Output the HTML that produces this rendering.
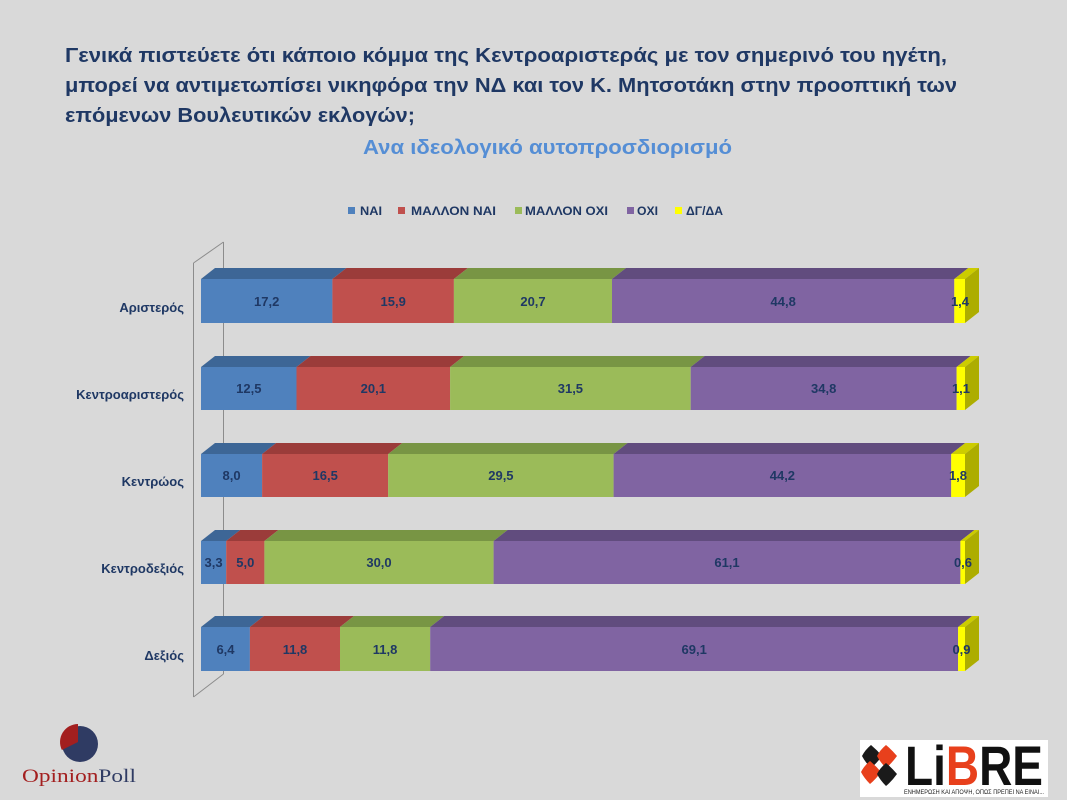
<!DOCTYPE html>
<html><head><meta charset="utf-8"><style>
html,body{margin:0;padding:0;background:#d9d9d9;}
svg{display:block;}
</style></head><body>
<svg width="1067" height="800" viewBox="0 0 1067 800" xmlns="http://www.w3.org/2000/svg" font-family="Liberation Sans, DejaVu Sans, sans-serif">
<rect width="1067" height="800" fill="#d9d9d9"/>

<!-- Title -->
<g fill="#1f3864" font-weight="bold" font-size="20">
<text x="65" y="62" textLength="882" lengthAdjust="spacingAndGlyphs">Γενικά πιστεύετε ότι κάποιο κόμμα της Κεντροαριστεράς με τον σημερινό του ηγέτη,</text>
<text x="65" y="92" textLength="892" lengthAdjust="spacingAndGlyphs">μπορεί να αντιμετωπίσει νικηφόρα την ΝΔ και τον Κ. Μητσοτάκη στην προοπτική των</text>
<text x="65" y="122" textLength="350" lengthAdjust="spacingAndGlyphs">επόμενων Βουλευτικών εκλογών;</text>
</g>
<text x="363" y="154" fill="#558ed5" font-weight="bold" font-size="20" textLength="369" lengthAdjust="spacingAndGlyphs">Ανα ιδεολογικό αυτοπροσδιορισμό</text>

<!-- Legend -->
<g font-weight="bold" font-size="11.5" fill="#1f3864">
<rect x="348" y="207" width="7" height="7" fill="#4f81bd"/>
<text x="360" y="215" textLength="22" lengthAdjust="spacingAndGlyphs">ΝΑΙ</text>
<rect x="398" y="207" width="7" height="7" fill="#c0504d"/>
<text x="411" y="215" textLength="85" lengthAdjust="spacingAndGlyphs">ΜΑΛΛΟΝ ΝΑΙ</text>
<rect x="515" y="207" width="7" height="7" fill="#9bbb59"/>
<text x="525" y="215" textLength="83" lengthAdjust="spacingAndGlyphs">ΜΑΛΛΟΝ ΟΧΙ</text>
<rect x="627" y="207" width="7" height="7" fill="#8064a2"/>
<text x="637" y="215" textLength="21" lengthAdjust="spacingAndGlyphs">ΟΧΙ</text>
<rect x="675" y="207" width="7" height="7" fill="#ffff00"/>
<text x="686" y="215" textLength="37" lengthAdjust="spacingAndGlyphs">ΔΓ/ΔΑ</text>
</g>

<!-- Wall -->
<g stroke="#8c8c8c" stroke-width="1" fill="none">
<line x1="193.5" y1="263" x2="223.5" y2="242"/>
<line x1="223.5" y1="242" x2="223.5" y2="674"/>
<line x1="193.5" y1="263" x2="193.5" y2="697"/>
<line x1="193.5" y1="697" x2="223.5" y2="674"/>
</g>

<!-- Category labels -->
<g font-weight="bold" font-size="13" fill="#1f3864" text-anchor="end">
<text x="184" y="312">Αριστερός</text>
<text x="184" y="399">Κεντροαριστερός</text>
<text x="184" y="486">Κεντρώος</text>
<text x="184" y="573">Κεντροδεξιός</text>
<text x="184" y="660">Δεξιός</text>
</g>

<!-- Row 1 -->
<g>
<polygon points="201,279 332.4,279 346.4,268 215,268" fill="#3d6696"/>
<polygon points="332.4,279 453.9,279 467.9,268 346.4,268" fill="#9b3c3a"/>
<polygon points="453.9,279 612,279 626,268 467.9,268" fill="#789544"/>
<polygon points="612,279 954.3,279 968.3,268 626,268" fill="#614c7e"/>
<polygon points="954.3,279 965,279 979,268 968.3,268" fill="#cccc00"/>
<polygon points="965,279 979,268 979,312 965,323" fill="#adad00"/>
<rect x="201" y="279" width="131.4" height="44" fill="#4f81bd"/>
<rect x="332.4" y="279" width="121.5" height="44" fill="#c0504d"/>
<rect x="453.9" y="279" width="158.1" height="44" fill="#9bbb59"/>
<rect x="612" y="279" width="342.3" height="44" fill="#8064a2"/>
<rect x="954.3" y="279" width="10.7" height="44" fill="#ffff00"/>
</g>
<!-- Row 2 -->
<g>
<polygon points="201,367 296.5,367 310.5,356 215,356" fill="#3d6696"/>
<polygon points="296.5,367 450.1,367 464.1,356 310.5,356" fill="#9b3c3a"/>
<polygon points="450.1,367 690.7,367 704.7,356 464.1,356" fill="#789544"/>
<polygon points="690.7,367 956.6,367 970.6,356 704.7,356" fill="#614c7e"/>
<polygon points="956.6,367 965,367 979,356 970.6,356" fill="#cccc00"/>
<polygon points="965,367 979,356 979,399 965,410" fill="#adad00"/>
<rect x="201" y="367" width="95.5" height="43" fill="#4f81bd"/>
<rect x="296.5" y="367" width="153.6" height="43" fill="#c0504d"/>
<rect x="450.1" y="367" width="240.6" height="43" fill="#9bbb59"/>
<rect x="690.7" y="367" width="265.9" height="43" fill="#8064a2"/>
<rect x="956.6" y="367" width="8.4" height="43" fill="#ffff00"/>
</g>
<!-- Row 3 -->
<g>
<polygon points="201,454 262.1,454 276.1,443 215,443" fill="#3d6696"/>
<polygon points="262.1,454 388.2,454 402.2,443 276.1,443" fill="#9b3c3a"/>
<polygon points="388.2,454 613.6,454 627.6,443 402.2,443" fill="#789544"/>
<polygon points="613.6,454 951.2,454 965.2,443 627.6,443" fill="#614c7e"/>
<polygon points="951.2,454 965,454 979,443 965.2,443" fill="#cccc00"/>
<polygon points="965,454 979,443 979,486 965,497" fill="#adad00"/>
<rect x="201" y="454" width="61.1" height="43" fill="#4f81bd"/>
<rect x="262.1" y="454" width="126.1" height="43" fill="#c0504d"/>
<rect x="388.2" y="454" width="225.4" height="43" fill="#9bbb59"/>
<rect x="613.6" y="454" width="337.6" height="43" fill="#8064a2"/>
<rect x="951.2" y="454" width="13.8" height="43" fill="#ffff00"/>
</g>
<!-- Row 4 -->
<g>
<polygon points="201,541 226.2,541 240.2,530 215,530" fill="#3d6696"/>
<polygon points="226.2,541 264.4,541 278.4,530 240.2,530" fill="#9b3c3a"/>
<polygon points="264.4,541 493.6,541 507.6,530 278.4,530" fill="#789544"/>
<polygon points="493.6,541 960.4,541 974.4,530 507.6,530" fill="#614c7e"/>
<polygon points="960.4,541 965,541 979,530 974.4,530" fill="#cccc00"/>
<polygon points="965,541 979,530 979,573 965,584" fill="#adad00"/>
<rect x="201" y="541" width="25.2" height="43" fill="#4f81bd"/>
<rect x="226.2" y="541" width="38.2" height="43" fill="#c0504d"/>
<rect x="264.4" y="541" width="229.2" height="43" fill="#9bbb59"/>
<rect x="493.6" y="541" width="466.8" height="43" fill="#8064a2"/>
<rect x="960.4" y="541" width="4.6" height="43" fill="#ffff00"/>
</g>
<!-- Row 5 -->
<g>
<polygon points="201,627 249.9,627 263.9,616 215,616" fill="#3d6696"/>
<polygon points="249.9,627 340,627 354,616 263.9,616" fill="#9b3c3a"/>
<polygon points="340,627 430.2,627 444.2,616 354,616" fill="#789544"/>
<polygon points="430.2,627 958.1,627 972.1,616 444.2,616" fill="#614c7e"/>
<polygon points="958.1,627 965,627 979,616 972.1,616" fill="#cccc00"/>
<polygon points="965,627 979,616 979,660 965,671" fill="#adad00"/>
<rect x="201" y="627" width="48.9" height="44" fill="#4f81bd"/>
<rect x="249.9" y="627" width="90.1" height="44" fill="#c0504d"/>
<rect x="340" y="627" width="90.2" height="44" fill="#9bbb59"/>
<rect x="430.2" y="627" width="527.9" height="44" fill="#8064a2"/>
<rect x="958.1" y="627" width="6.9" height="44" fill="#ffff00"/>
</g>

<!-- Data labels -->
<g font-weight="bold" font-size="13" fill="#1f3864" text-anchor="middle">
<text x="266.7" y="306">17,2</text>
<text x="393.2" y="306">15,9</text>
<text x="533" y="306">20,7</text>
<text x="783.2" y="306">44,8</text>
<text x="960" y="306">1,4</text>

<text x="248.8" y="393">12,5</text>
<text x="373.3" y="393">20,1</text>
<text x="570.4" y="393">31,5</text>
<text x="823.7" y="393">34,8</text>
<text x="961" y="393">1,1</text>

<text x="231.6" y="480">8,0</text>
<text x="325.2" y="480">16,5</text>
<text x="500.9" y="480">29,5</text>
<text x="782.4" y="480">44,2</text>
<text x="958" y="480">1,8</text>

<text x="213.6" y="567">3,3</text>
<text x="245.3" y="567">5,0</text>
<text x="379" y="567">30,0</text>
<text x="727" y="567">61,1</text>
<text x="963" y="567">0,6</text>

<text x="225.5" y="654">6,4</text>
<text x="295" y="654">11,8</text>
<text x="385.1" y="654">11,8</text>
<text x="694.2" y="654">69,1</text>
<text x="961.5" y="654">0,9</text>
</g>

<!-- OpinionPoll logo -->
<circle cx="80" cy="744" r="18" fill="#2f3b63"/>
<path d="M78,742 L78,724 A18,18 0 0 0 61.9,750 Z" fill="#a31f1f"/>
<text x="22" y="782" font-family="Liberation Serif, serif" font-size="19" textLength="114" lengthAdjust="spacingAndGlyphs"><tspan fill="#a31f1f">Opinion</tspan><tspan fill="#2f3b63">Poll</tspan></text>

<!-- LiBRE logo -->
<rect x="860" y="740" width="188" height="57" fill="#ffffff"/>
<g>
<path d="M871,745 Q877,750 882,756 Q877,763 871,768 Q865,762 862,756 Q865,750 871,745 Z" fill="#1a1a1a"/>
<path d="M886,745 Q892,750 897,756 Q892,763 886,768 Q880,762 877,756 Q880,750 886,745 Z" fill="#e8401c"/>
<path d="M870,761 Q876,766 881,772 Q876,779 870,784 Q864,778 861,772 Q864,766 870,761 Z" fill="#e8401c"/>
<path d="M886,763 Q892,768 897,774 Q892,781 886,786 Q880,780 877,774 Q880,768 886,763 Z" fill="#1a1a1a"/>
</g>
<text x="905" y="785" font-family="Liberation Sans, sans-serif" font-weight="bold" font-size="56" textLength="138" lengthAdjust="spacingAndGlyphs"><tspan fill="#111111">Li</tspan><tspan fill="#e8401c">B</tspan><tspan fill="#111111">RE</tspan></text>
<text x="904" y="794" font-family="Liberation Sans, sans-serif" font-size="6.5" fill="#222" textLength="140" lengthAdjust="spacingAndGlyphs">ΕΝΗΜΕΡΩΣΗ ΚΑΙ ΑΠΟΨΗ, ΟΠΩΣ ΠΡΕΠΕΙ ΝΑ ΕΙΝΑΙ...</text>
</svg>
</body></html>
